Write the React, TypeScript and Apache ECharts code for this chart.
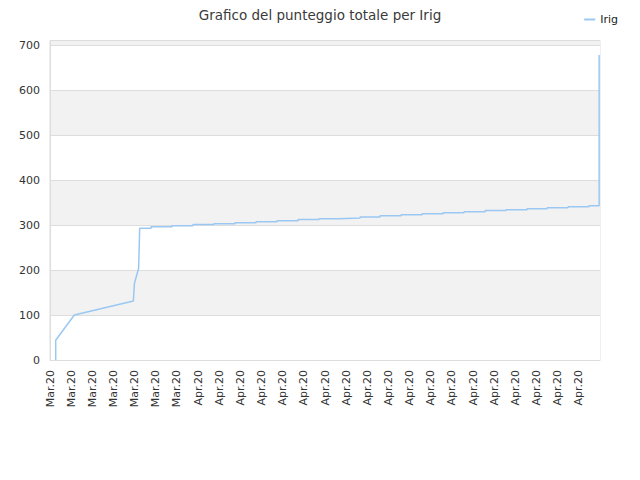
import { useEffect, useRef } from 'react';
import * as echarts from 'echarts';

// ─── Data ─────────────────────────────────────────────────────────────────────

const xLabels = [
  'Mar.20', 'Mar.20', 'Mar.20', 'Mar.20', 'Mar.20', 'Mar.20', 'Mar.20',
  'Apr.20', 'Apr.20', 'Apr.20', 'Apr.20', 'Apr.20', 'Apr.20', 'Apr.20',
  'Apr.20', 'Apr.20', 'Apr.20', 'Apr.20', 'Apr.20', 'Apr.20', 'Apr.20',
  'Apr.20', 'Apr.20', 'Apr.20', 'Apr.20', 'Apr.20',
];

// early part of the curve (x in label slots)
const startX = [0.27, 0.27, 1.15, 3.94, 3.99, 4.19, 4.24];
const startY = [0, 44, 100, 131, 170, 204, 293];

// daily steps afterwards
const stepX = [
  4.78, 5.77, 6.76, 7.75, 8.75, 9.74, 10.73, 11.73, 12.72, 13.66, 14.66,
  15.6, 16.6, 17.59, 18.58, 19.57, 20.57, 21.56, 22.55, 23.5, 24.49, 25.48,
];
const stepY = [
  296, 298.5, 301, 303, 305, 307.5, 309.5, 312, 314, 315.5, 318,
  320.5, 323, 325, 327, 329.5, 332, 334, 336, 338.5, 340.5, 343,
];

const endX = [25.96, 25.96];
const endY = [343, 678];

const TITLE = 'Grafico del punteggio totale per Irig';
const SERIES_NAME = 'Irig';

function buildPoints(): number[][] {
  const pts: number[][] = startX.map((x, i) => [x, startY[i]]);
  let prev = startY[startY.length - 1];
  stepX.forEach((x, i) => {
    pts.push([x, prev]);
    pts.push([x, stepY[i]]);
    prev = stepY[i];
  });
  endX.forEach((x, i) => pts.push([x, endY[i]]));
  return pts;
}

const FONT = 'DejaVu Sans, sans-serif';
const LINE_COLOR = '#9ac8f2';

function buildOption(): echarts.EChartsOption {
  return {
    animation: false,
    backgroundColor: '#ffffff',
    textStyle: { fontFamily: FONT },
    title: {
      text: TITLE,
      left: 'center',
      top: 3,
      textStyle: { fontFamily: FONT, fontSize: 13.5, fontWeight: 'normal', color: '#3a3a3a' },
    },
    legend: {
      right: 17,
      top: 9,
      icon: 'rect',
      itemWidth: 11,
      itemHeight: 2,
      itemGap: 6,
      textStyle: { fontFamily: FONT, fontSize: 11, color: '#222' },
      data: [SERIES_NAME],
    },
    grid: {
      left: 50,
      right: 40,
      top: 40.5,
      bottom: 120,
      show: true,
      borderColor: '#dddddd',
      borderWidth: 1,
      backgroundColor: 'transparent',
    },
    xAxis: {
      type: 'value',
      min: 0,
      max: 26,
      interval: 1,
      axisLine: { show: true, lineStyle: { color: '#dddddd' } },
      axisTick: { show: false },
      splitLine: { show: false },
      axisLabel: {
        rotate: 90,
        margin: 10,
        fontSize: 11,
        color: '#333',
        fontFamily: FONT,
        showMaxLabel: false,
        formatter: (v: number) => xLabels[Math.round(v)] ?? '',
      },
    },
    yAxis: {
      type: 'value',
      min: 0,
      max: 710,
      interval: 100,
      axisLine: { show: true, lineStyle: { color: '#dddddd' } },
      axisTick: { show: false },
      axisLabel: {
        fontSize: 11,
        color: '#333',
        fontFamily: FONT,
        margin: 10,
        showMaxLabel: false,
      },
      splitLine: { show: true, lineStyle: { color: '#dddddd' } },
      splitArea: { show: true, areaStyle: { color: ['#ffffff', '#f2f2f2'] } },
    },
    series: [
      {
        name: SERIES_NAME,
        type: 'line',
        data: buildPoints(),
        symbol: 'none',
        lineStyle: { color: LINE_COLOR, width: 1.5 },
        itemStyle: { color: LINE_COLOR },
      },
    ],
  };
}

export default function App() {
  const ref = useRef<HTMLDivElement>(null);

  useEffect(() => {
    if (!ref.current) return;
    const chart = echarts.init(ref.current, null, { renderer: 'svg' });
    chart.setOption(buildOption());
    return () => chart.dispose();
  }, []);

  return (
    <div
      ref={ref}
      style={{ position: 'fixed', left: 0, top: 0, width: 640, height: 480 }}
    />
  );
}
